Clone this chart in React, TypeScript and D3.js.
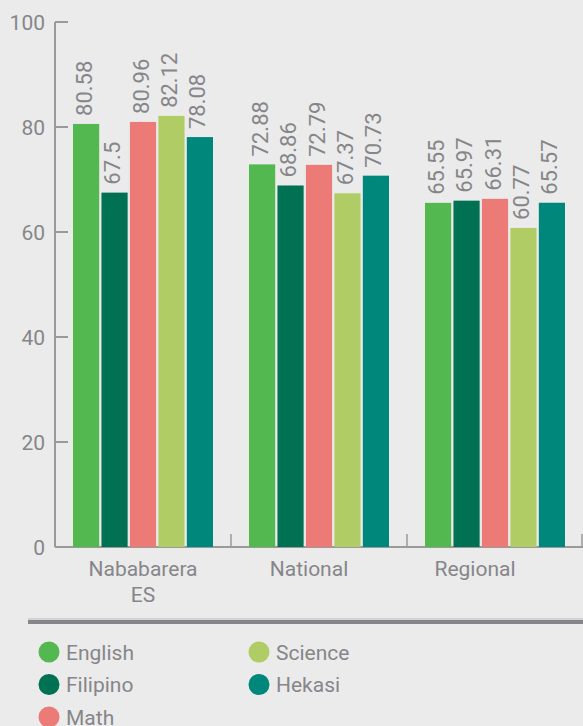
import React, { useEffect, useRef } from "react";
import * as d3 from "d3";

const categories = ["Nababarera ES", "National", "Regional"];
const subjects = ["English", "Filipino", "Math", "Science", "Hekasi"];
const english = [80.58, 72.88, 65.55];
const filipino = [67.5, 68.86, 65.97];
const math = [80.96, 72.79, 66.31];
const science = [82.12, 67.37, 60.77];
const hekasi = [78.08, 70.73, 65.57];
const yTicks = [0, 20, 40, 60, 80, 100];
const colors = ["#52b84f", "#007152", "#ec7a76", "#afcd64", "#00877b"];

const W = 583;
const H = 726;
const FONT = "Roboto, 'Noto Sans', sans-serif";
const TEXT = "#86868a";
const AXIS = "#9a9a9a";

export default function App() {
  const ref = useRef<SVGSVGElement>(null);

  useEffect(() => {
    const svg = d3.select(ref.current);
    svg.selectAll("*").remove();

    const seriesValues = [english, filipino, math, science, hekasi];
    const rows = categories.map((c, i) => ({
      category: c,
      values: subjects.map((s, j) => ({ subject: s, value: seriesValues[j][i] })),
    }));

    svg.append("rect").attr("width", W).attr("height", H).attr("fill", "#ebebeb");

    const left = 55;
    const right = 583;
    const top = 22;
    const bottom = 547;

    const y = d3.scaleLinear().domain([0, 100]).range([bottom, top]);
    const x0 = d3.scaleBand<string>().domain(categories).range([left, right]).padding(0);
    const bw = x0.bandwidth();
    const x1 = d3
      .scaleBand<string>()
      .domain(subjects)
      .range([18, bw - 18])
      .paddingInner(0.08);
    const labelX = d3
      .scalePoint<string>()
      .domain(categories)
      .range([left + bw / 2, right - bw / 2 - 20]);
    const color = d3.scaleOrdinal<string, string>().domain(subjects).range(colors);

    // y axis
    svg
      .append("line")
      .attr("x1", left)
      .attr("x2", left)
      .attr("y1", top)
      .attr("y2", bottom)
      .attr("stroke", AXIS)
      .attr("stroke-width", 2);
    const yt = svg.append("g");
    yTicks.forEach((t) => {
      yt.append("line")
        .attr("x1", left)
        .attr("x2", left + 13)
        .attr("y1", y(t))
        .attr("y2", y(t))
        .attr("stroke", AXIS)
        .attr("stroke-width", 2);
      yt.append("text")
        .attr("x", left - 10)
        .attr("y", y(t))
        .attr("dy", "0.36em")
        .attr("text-anchor", "end")
        .attr("font-family", FONT)
        .attr("font-size", 21)
        .attr("fill", TEXT)
        .text(t);
    });

    // x axis
    svg
      .append("line")
      .attr("x1", left)
      .attr("x2", right)
      .attr("y1", bottom)
      .attr("y2", bottom)
      .attr("stroke", AXIS)
      .attr("stroke-width", 2);
    categories.forEach((c) => {
      const xe = (x0(c) as number) + bw;
      svg
        .append("line")
        .attr("x1", Math.min(xe, right - 1))
        .attr("x2", Math.min(xe, right - 1))
        .attr("y1", bottom)
        .attr("y2", bottom - 13)
        .attr("stroke", AXIS)
        .attr("stroke-width", 1.5);
    });

    // bars
    const groups = svg
      .append("g")
      .selectAll("g")
      .data(rows)
      .join("g")
      .attr("transform", (d) => `translate(${x0(d.category)},0)`);

    groups
      .selectAll("rect")
      .data((d) => d.values)
      .join("rect")
      .attr("x", (d) => x1(d.subject) as number)
      .attr("y", (d) => y(d.value))
      .attr("width", x1.bandwidth())
      .attr("height", (d) => y(0) - y(d.value))
      .attr("fill", (d) => color(d.subject));

    groups
      .selectAll("text")
      .data((d) => d.values)
      .join("text")
      .attr(
        "transform",
        (d) =>
          `translate(${(x1(d.subject) as number) + x1.bandwidth() / 2 + 5.5},${y(d.value) - 8}) rotate(-90)`
      )
      .attr("font-family", FONT)
      .attr("font-size", 22)
      .attr("fill", TEXT)
      .text((d) => String(d.value));

    // category labels
    categories.forEach((c) => {
      const words = c === "Nababarera ES" ? ["Nababarera", "ES"] : [c];
      const t = svg
        .append("text")
        .attr("x", labelX(c) as number)
        .attr("y", 576)
        .attr("text-anchor", "middle")
        .attr("font-family", FONT)
        .attr("font-size", 21)
        .attr("fill", TEXT);
      words.forEach((w, i) => {
        t.append("tspan")
          .attr("x", labelX(c) as number)
          .attr("dy", i === 0 ? 0 : 26)
          .text(w);
      });
    });

    // separator
    svg
      .append("line")
      .attr("x1", 28)
      .attr("x2", W)
      .attr("y1", 619)
      .attr("y2", 619)
      .attr("stroke", "#d2d2d2")
      .attr("stroke-width", 2);
    svg
      .append("line")
      .attr("x1", 28)
      .attr("x2", W)
      .attr("y1", 622)
      .attr("y2", 622)
      .attr("stroke", "#86868a")
      .attr("stroke-width", 4);

    // legend
    const legend = svg.append("g");
    subjects.forEach((s, i) => {
      const col = Math.floor(i / 3);
      const row = i % 3;
      const cx = 49 + col * 210;
      const cy = 652 + row * 32.5;
      legend
        .append("circle")
        .attr("cx", cx)
        .attr("cy", cy)
        .attr("r", 10.5)
        .attr("fill", color(s));
      legend
        .append("text")
        .attr("x", cx + 17)
        .attr("y", cy)
        .attr("dy", "0.36em")
        .attr("font-family", FONT)
        .attr("font-size", 21)
        .attr("fill", TEXT)
        .text(s);
    });
  }, []);

  return (
    <svg
      ref={ref}
      width={W}
      height={H}
      style={{ position: "absolute", left: 0, top: 0, display: "block" }}
    />
  );
}
